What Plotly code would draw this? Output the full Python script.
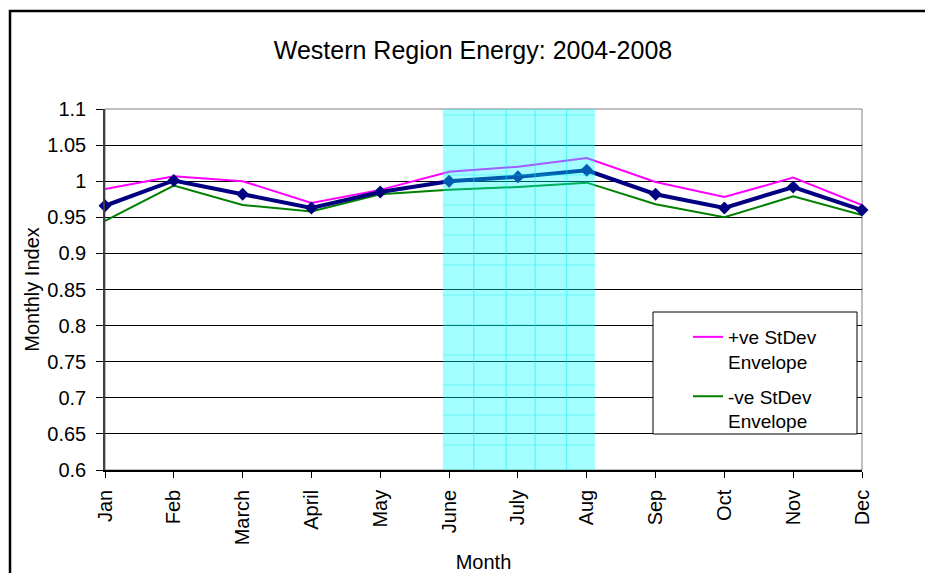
import plotly.graph_objects as go

months = ["Jan", "Feb", "March", "April", "May", "June", "July", "Aug", "Sep", "Oct", "Nov", "Dec"]
mean_index = [0.966, 1.001, 0.982, 0.963, 0.985, 1.000, 1.006, 1.015, 0.982, 0.963, 0.992, 0.960]
plus_sd = [0.989, 1.007, 1.000, 0.970, 0.988, 1.013, 1.020, 1.032, 0.999, 0.978, 1.005, 0.967]
minus_sd = [0.945, 0.994, 0.967, 0.958, 0.982, 0.988, 0.992, 0.998, 0.968, 0.950, 0.979, 0.953]
y_ticks = [0.6, 0.65, 0.7, 0.75, 0.8, 0.85, 0.9, 0.95, 1.0, 1.05, 1.1]
y_tick_text = ["0.6", "0.65", "0.7", "0.75", "0.8", "0.85", "0.9", "0.95", "1", "1.05", "1.1"]
summer_start, summer_end = 4.91, 7.12   # highlighted summer band (month index)
band_vlines = [5.36, 5.83, 6.25, 6.71]

x = list(range(len(months)))
FONT = "Liberation Sans, Arial, sans-serif"

# plot-area pixel geometry
PL, PR, PT, PB = 105, 862, 109, 470
PW, PH = PR - PL, PB - PT

def px_x(p):
    return (p - PL) / PW

def px_y(p):
    return (PB - p) / PH

fig = go.Figure()
fig.add_trace(go.Scatter(
    x=x, y=plus_sd, mode="lines", name="+ve StDev<br>Envelope", legendgroup="p",
    line=dict(color="#FF00FF", width=2), cliponaxis=False))
fig.add_trace(go.Scatter(
    x=x, y=minus_sd, mode="lines", name="-ve StDev<br>Envelope", legendgroup="m",
    line=dict(color="#008000", width=2), cliponaxis=False))
fig.add_trace(go.Scatter(
    x=x, y=mean_index, mode="lines+markers", name="Mean",
    line=dict(color="#000080", width=4),
    marker=dict(symbol="diamond", size=10, color="#000080"),
    showlegend=False, cliponaxis=False))

shapes = []
shapes.append(dict(type="rect", xref="paper", yref="paper", x0=0, x1=1, y0=0, y1=1,
                   line=dict(color="#808080", width=1), layer="below"))
shapes.append(dict(type="rect", xref="x", yref="paper", x0=summer_start, x1=summer_end,
                   y0=0, y1=1, fillcolor="rgba(0,255,255,0.36)", line=dict(width=0),
                   layer="above"))
for bx in band_vlines:
    shapes.append(dict(type="line", xref="x", yref="paper", x0=bx, x1=bx, y0=0, y1=1,
                       line=dict(color="rgba(0,230,240,0.55)", width=1), layer="above"))
for hy in range(115, 470, 30):
    shapes.append(dict(type="line", xref="x", yref="paper", x0=summer_start, x1=summer_end,
                       y0=px_y(hy), y1=px_y(hy),
                       line=dict(color="rgba(0,230,240,0.35)", width=1), layer="above"))
shapes.append(dict(type="rect", xref="paper", yref="paper", x0=px_x(653), x1=px_x(857),
                   y0=px_y(434), y1=px_y(312),
                   fillcolor="white", line=dict(color="black", width=1), layer="above"))
shapes.append(dict(type="rect", xref="paper", yref="paper",
                   x0=px_x(10), x1=1.2, y0=-0.5, y1=px_y(11),
                   line=dict(color="black", width=2.5), layer="above"))

fig.update_layout(
    width=925, height=573,
    margin=dict(l=PL, r=925 - PR, t=PT, b=573 - PB),
    paper_bgcolor="white", plot_bgcolor="white",
    font=dict(family=FONT, size=20, color="black"),
    title=dict(text="Western Region Energy: 2004-2008", x=473 / 925, xanchor="center",
               y=1 - 50 / 573, yanchor="middle", xref="container",
               font=dict(family=FONT, size=25, color="black")),
    showlegend=True,
    legend=dict(x=px_x(688), y=px_y(318), xanchor="left", yanchor="top",
                bgcolor="rgba(0,0,0,0)", borderwidth=0, valign="top", tracegroupgap=7,
                font=dict(family=FONT, size=19, color="black")),
    shapes=shapes,
    xaxis=dict(range=[0, 11], tickvals=x, ticktext=months, tickangle=-90, automargin=False,
               showgrid=False, zeroline=False, showline=True, linecolor="black", linewidth=1.5,
               ticks="outside", ticklen=6, tickcolor="black",
               title=dict(text="Month", standoff=12, font=dict(size=20)),
               tickfont=dict(size=20), ticklabelstandoff=4),
    yaxis=dict(range=[0.6, 1.1], tickvals=y_ticks, ticktext=y_tick_text, automargin=False,
               showgrid=True, gridcolor="black", gridwidth=1, zeroline=False,
               showline=True, linecolor="#404040", linewidth=1.5,
               ticks="outside", ticklen=7, tickcolor="black",
               title=dict(text="Monthly Index", standoff=2, font=dict(size=20)),
               tickfont=dict(size=20), ticklabelstandoff=6),
)

fig.write_html("out.html", config={"displayModeBar": False},
               post_script="document.body.style.margin='0';")
